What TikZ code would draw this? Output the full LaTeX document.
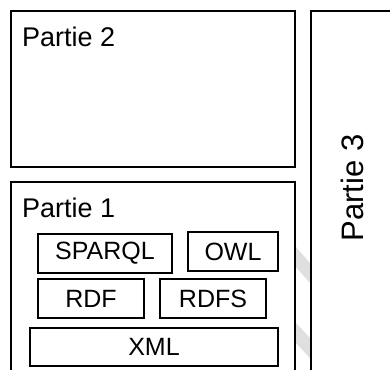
\documentclass[tikz,border=0pt]{standalone}
\usepackage{fontspec}
\setmainfont{Liberation Sans}
\begin{document}
\begin{tikzpicture}[x=1pt,y=-1pt,
  box/.style={draw,line width=1.8pt,inner sep=0pt,anchor=north west},
  techbox/.style={draw,line width=1.7pt,inner sep=0pt,minimum height=39pt,font=\fontsize{25}{30}\selectfont},
  partlab/.style={inner sep=0pt,font=\fontsize{27}{32}\selectfont},
  band/.style={fill=gray!25}]
\clip (0,0) rectangle (390,369);
\fill[white] (0,0) rectangle (390,369);
% grey bands
\fill[band] (295,246) -- (310,263) -- (310,283) -- (295,266) -- cycle;
\fill[band] (295,322) -- (310,338) -- (310,358) -- (295,342) -- cycle;
% big boxes
\node[box,minimum width=284pt,minimum height=156pt] (p2) at (10,10) {};
\node[box,minimum width=284pt,minimum height=220pt] (p1) at (10,181) {};
\node[box,minimum width=120pt,minimum height=400pt] (p3) at (310,10) {};
% labels
\node[partlab,anchor=base west] (l2) at (22,46) {Partie 2};
\node[partlab,anchor=base west] (l1) at (22,217) {Partie 1};
\node[partlab,font=\fontsize{31}{36}\selectfont,rotate=90,anchor=base] (l3) at (363,188) {Partie 3};
% technology boxes
\node[techbox,minimum width=134pt] (sparql) at (105,253.5) {SPARQL};
\node[techbox,minimum width=90pt] (owl) at (233,251.5) {OWL};
\node[techbox,minimum width=106pt] (rdf) at (91,298.5) {RDF};
\node[techbox,minimum width=106pt] (rdfs) at (213,298.5) {RDFS};
\node[techbox,minimum width=248pt,minimum height=38pt] (xml) at (154,347) {XML};
\end{tikzpicture}
\end{document}
